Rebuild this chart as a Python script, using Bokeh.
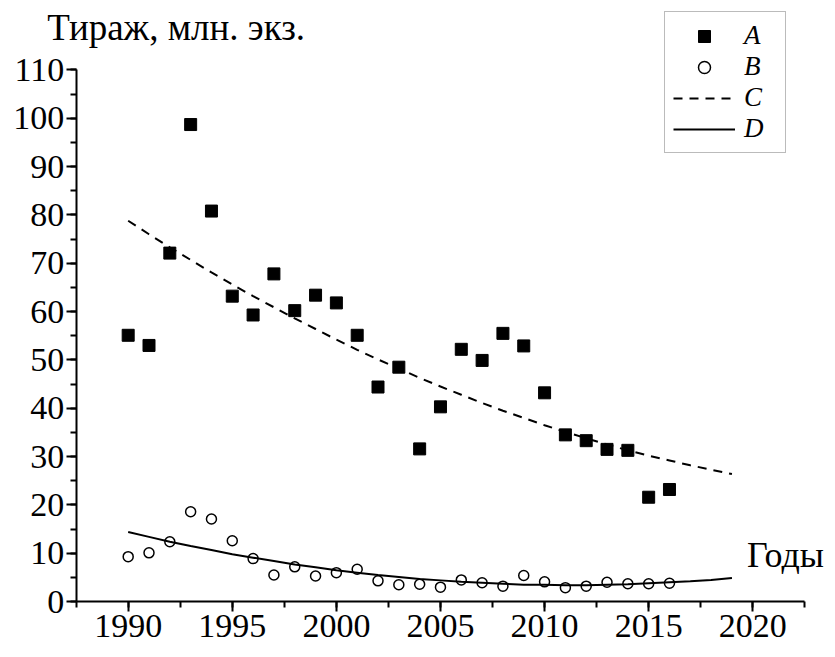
from bokeh.plotting import figure
from bokeh.models import Range1d, SingleIntervalTicker, Label, Legend, LegendItem
from bokeh.embed import file_html
from bokeh.resources import INLINE

# ---- data ----
years_AB = list(range(1990, 2017))
values_A = [55.1, 53.0, 72.1, 98.7, 80.8, 63.2, 59.3, 67.8, 60.2, 63.4, 61.8,
            55.1, 44.4, 48.5, 31.6, 40.3, 52.2, 49.9, 55.5, 52.9, 43.2, 34.5,
            33.3, 31.5, 31.3, 21.6, 23.2]
values_B = [9.3, 10.1, 12.4, 18.6, 17.1, 12.6, 8.9, 5.5, 7.2, 5.3, 6.0, 6.7,
            4.3, 3.5, 3.6, 3.0, 4.5, 3.9, 3.2, 5.4, 4.1, 2.9, 3.2, 4.0, 3.7,
            3.7, 3.8]
years_trend = list(range(1990, 2020))
trend_C = [78.8, 76.0, 73.3, 70.7, 68.1, 65.6, 63.2, 60.9, 58.6, 56.4, 54.2,
           52.1, 50.1, 48.2, 46.3, 44.5, 42.8, 41.1, 39.5, 38.0, 36.5, 35.1,
           33.8, 32.5, 31.3, 30.2, 29.2, 28.2, 27.3, 26.4]
trend_D = [14.4, 13.4, 12.4, 11.5, 10.7, 9.8, 9.1, 8.4, 7.7, 7.1, 6.5, 6.0,
           5.5, 5.1, 4.7, 4.4, 4.1, 3.9, 3.7, 3.5, 3.5, 3.4, 3.4, 3.5, 3.6,
           3.8, 4.0, 4.2, 4.5, 4.9]
series_names = ["A", "B", "C", "D"]
y_title = "Тираж, млн. экз."
x_title = "Годы"

FONT = "Liberation Serif"

p = figure(width=827, height=649, output_backend="svg", toolbar_location=None,
           x_range=Range1d(1983.867, 2023.59), y_range=Range1d(-9.9, 124.36),
           min_border_left=0, min_border_right=0, min_border_top=0,
           min_border_bottom=0)
p.outline_line_color = None
p.xgrid.visible = False
p.ygrid.visible = False
p.background_fill_color = "white"
p.border_fill_color = "white"

for ax in (p.xaxis[0], p.yaxis[0]):
    ax.axis_line_width = 2
    ax.major_tick_line_width = 2
    ax.minor_tick_line_width = 2
    ax.major_tick_in = 0
    ax.minor_tick_in = 0
    ax.major_tick_out = 10
    ax.minor_tick_out = 6
    ax.major_label_text_font = FONT
    ax.major_label_text_font_size = "34px"
    ax.major_label_text_color = "black"
    ax.axis_line_color = "black"
    ax.major_tick_line_color = "black"
    ax.minor_tick_line_color = "black"

p.xaxis.ticker = SingleIntervalTicker(interval=5, num_minor_ticks=2)
p.yaxis.ticker = SingleIntervalTicker(interval=10, num_minor_ticks=2)
p.xaxis.bounds = (1987.5, 2022.5)
p.yaxis.bounds = (0, 110)
p.xaxis.fixed_location = 0
p.yaxis.fixed_location = 1987.5
p.xaxis.major_label_standoff = 3
p.yaxis.major_label_standoff = 2

rA = p.scatter(years_AB, values_A, marker="square", size=12,
               fill_color="black", line_color="black")
rB = p.scatter(years_AB, values_B, marker="circle", size=10,
               fill_color="white", line_color="black", line_width=1.5)
rC = p.line(years_trend, trend_C, line_color="black", line_width=2,
            line_dash="9 7")
rD = p.line(years_trend, trend_D, line_color="black", line_width=2)

legend = Legend(items=[LegendItem(label=series_names[0], renderers=[rA]),
                       LegendItem(label=series_names[1], renderers=[rB]),
                       LegendItem(label=series_names[2], renderers=[rC]),
                       LegendItem(label=series_names[3], renderers=[rD])],
                location=(664, 496))
legend.border_line_color = "#777777"
legend.border_line_width = 1
legend.background_fill_color = "white"
legend.background_fill_alpha = 1
legend.label_text_font = FONT
legend.label_text_font_style = "italic"
legend.label_text_font_size = "27px"
legend.label_text_color = "black"
legend.glyph_width = 62
legend.glyph_height = 30
legend.label_height = 30
legend.label_width = 33
legend.label_standoff = 9
legend.padding = 8
legend.spacing = 0
legend.margin = 0
p.add_layout(legend)

p.add_layout(Label(x=1986.11, y=118.86, text=y_title, text_font=FONT,
                   text_font_size="37px", text_color="black",
                   text_baseline="alphabetic", text_align="left"))
p.add_layout(Label(x=2019.72, y=9.66, text=x_title, text_font=FONT,
                   text_font_size="36px", text_color="black",
                   text_baseline="alphabetic", text_align="left"))

open("out.html", "w").write(file_html(p, INLINE))
